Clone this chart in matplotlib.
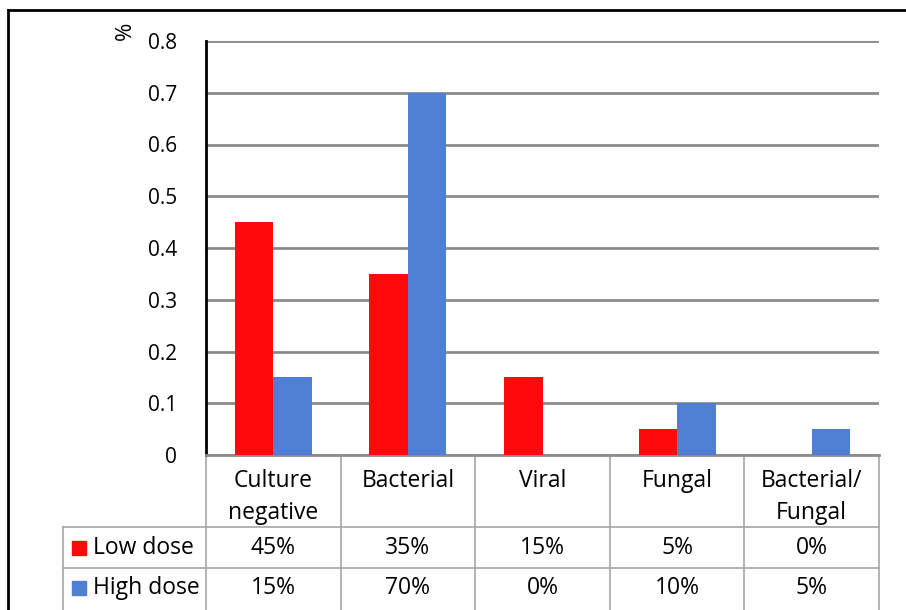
import numpy as np
import matplotlib.pyplot as plt
import matplotlib.transforms as mtransforms

categories = ['Culture\nnegative', 'Bacterial', 'Viral', 'Fungal', 'Bacterial/\nFungal']
low_dose = [0.45, 0.35, 0.15, 0.05, 0.0]
high_dose = [0.15, 0.70, 0.0, 0.10, 0.05]
series_names = ['Low dose', 'High dose']
yticks = [0, 0.1, 0.2, 0.3, 0.4, 0.5, 0.6, 0.7, 0.8]

RED = '#fe0a0a'
BLUE = '#4f7fd1'
GRID = '#8c8c8c'
TLINE = '#a6a6a6'
FS = 16.5

plt.rcParams['font.family'] = ['Open Sans', 'DejaVu Sans']

W, H = 906, 610
fig = plt.figure(figsize=(W / 100, H / 100), dpi=100)

# axes box in pixels
x0, x1, yb, yt = 206, 879, 455, 41
ax = fig.add_axes([x0 / W, 1 - yb / H, (x1 - x0) / W, (yb - yt) / H])

n = len(categories)
x = np.arange(n)
bw = 0.286
ax.bar(x - bw / 2, low_dose, width=bw, color=RED, zorder=3)
ax.bar(x + bw / 2, high_dose, width=bw, color=BLUE, zorder=3)

ax.set_xlim(-0.5, n - 0.5)
ax.set_ylim(0, 0.8)
ax.set_yticks(yticks)
ax.set_yticklabels([('%g' % v) for v in yticks], fontsize=15)
ax.set_xticks([])
ax.yaxis.grid(True, color=GRID, linewidth=2, zorder=0)
for s in ['top', 'right']:
    ax.spines[s].set_visible(False)
ax.spines['left'].set_linewidth(2)
ax.spines['left'].set_color('black')
ax.spines['bottom'].set_color(GRID)
ax.spines['bottom'].set_linewidth(2)
ax.tick_params(axis='y', length=0, pad=21)


def fy(py):
    return 1 - py / H


fig.text(125 / W, fy(31), '%', rotation=90, fontsize=16, ha='center', va='center')

# data table under the axes: x in data units, y in figure pixels
tr = mtransforms.blended_transform_factory(ax.transData, fig.transFigure)

row_cat = (455, 527)
row_low = (527, 568)
row_high = (568, 612)
lab_left = -0.5 - (206 - 63) / ((x1 - x0) / n)

lkw = dict(color=TLINE, linewidth=1.2, transform=tr, clip_on=False)
# horizontal lines
for py in [row_low[0], row_high[0]]:
    ax.plot([lab_left, n - 0.5], [fy(py), fy(py)], **lkw)
# vertical lines
for b in np.arange(-0.5, n, 1.0):
    ax.plot([b, b], [fy(row_cat[0]), fy(row_high[1])], **lkw)
ax.plot([lab_left, lab_left], [fy(row_low[0]), fy(row_high[1])], **lkw)

for i, c in enumerate(categories):
    ax.text(i, fy(469), c, transform=tr, ha='center', va='top',
            fontsize=FS, linespacing=1.45)
    ax.text(i, fy(sum(row_low) / 2), '%d%%' % round(low_dose[i] * 100), transform=tr,
            ha='center', va='center', fontsize=FS)
    ax.text(i, fy(sum(row_high) / 2 - 2), '%d%%' % round(high_dose[i] * 100), transform=tr,
            ha='center', va='center', fontsize=FS)

for name, color, row in [(series_names[0], RED, row_low), (series_names[1], BLUE, row_high)]:
    yc = sum(row) / 2 - (2 if row is row_high else 0)
    fig.patches.append(plt.Rectangle((72 / W, fy(yc + 7)), 14 / W, 14 / H, color=color,
                                     transform=fig.transFigure, figure=fig))
    fig.text(93 / W, fy(yc), name, ha='left', va='center', fontsize=FS)

# outer frame (left and top)
fig.add_artist(plt.Line2D([8 / W, 8 / W], [0, fy(10)], color='black', linewidth=2,
                          transform=fig.transFigure))
fig.add_artist(plt.Line2D([8 / W, 1], [fy(10), fy(10)], color='black', linewidth=2,
                          transform=fig.transFigure))

fig.savefig('out.png', dpi=100)
